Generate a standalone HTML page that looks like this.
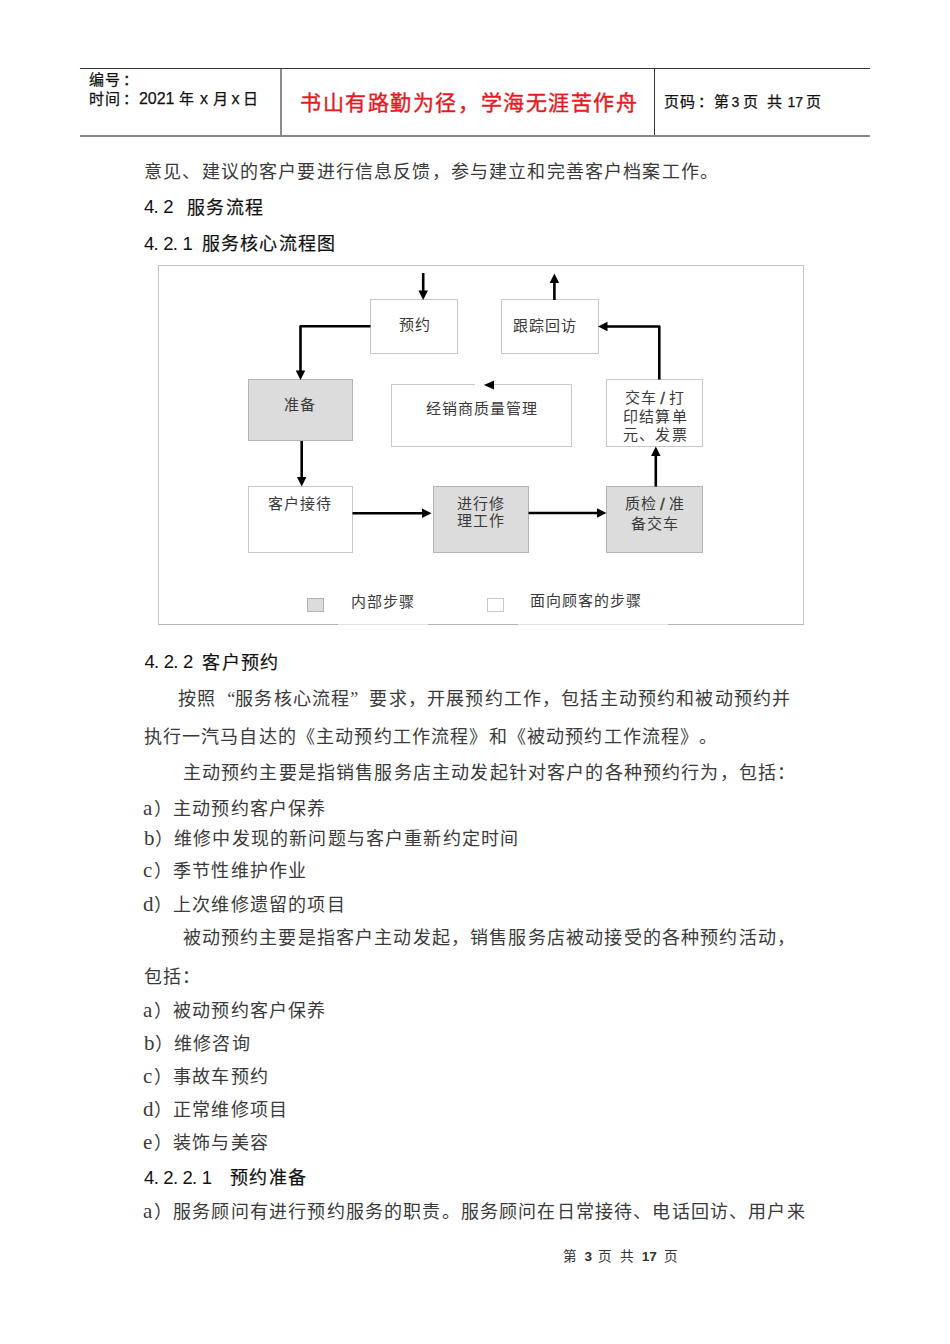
<!DOCTYPE html>
<html lang="zh-CN"><head><meta charset="utf-8"><title>doc</title>
<style>
html,body{margin:0;padding:0;background:#fff;}
body{width:950px;height:1344px;position:relative;overflow:hidden;font-family:"Liberation Serif",serif;}
.t{position:absolute;white-space:nowrap;line-height:1;text-spacing-trim:space-all;font-kerning:none;}
.ql{display:inline-block;width:19.17px;text-align:right;letter-spacing:0;}
.qr{display:inline-block;width:19.17px;text-align:left;}
.h{display:inline-block;width:10.9px;font-family:"Liberation Serif",serif;font-size:21px;}
.hd{display:inline-block;width:9.6px;font-family:"Liberation Sans",sans-serif;font-size:18.5px;position:relative;top:-0.6px;-webkit-text-stroke:0;}
.sl{font-family:"Liberation Sans",sans-serif;font-size:17px;position:relative;top:1.5px;-webkit-text-stroke:0.3px #3a3a3a;}
.l{font-family:"Liberation Sans",sans-serif;letter-spacing:0;}
.ln{position:absolute;}
</style></head><body>
<div class="ln" style="left:80px;top:68px;width:790px;height:1px;background:#333"></div>
<div class="ln" style="left:80px;top:135px;width:790px;height:2px;background:#888"></div>
<div class="ln" style="left:280px;top:69px;width:2px;height:66px;background:#8c8c8c"></div>
<div class="ln" style="left:654px;top:69px;width:1px;height:66px;background:#333"></div>
<svg id="dg" width="950" height="1344" style="position:absolute;left:0;top:0"><rect x="158.5" y="265.5" width="645.0" height="359.0" fill="#fff" stroke="#c4c4c4" stroke-width="1"/><rect x="158" y="624" width="180" height="1" fill="#b4b4b4"/><rect x="338" y="624" width="90" height="1" fill="#e4e4e4"/><rect x="428" y="624" width="90" height="1" fill="#b4b4b4"/><rect x="518" y="624" width="150" height="1" fill="#e4e4e4"/><rect x="668" y="624" width="136" height="1" fill="#b4b4b4"/><rect x="370.5" y="299.5" width="87.0" height="54.0" fill="#fff" stroke="#c8c8c8" stroke-width="1"/><rect x="501.5" y="299.5" width="97.0" height="54.0" fill="#fff" stroke="#c8c8c8" stroke-width="1"/><rect x="248.5" y="379.5" width="104.0" height="61.0" fill="#dcdcdc" stroke="#b4b4b4" stroke-width="1"/><rect x="391.5" y="384.5" width="180.0" height="62.0" fill="#fff" stroke="#c8c8c8" stroke-width="1"/><rect x="606.5" y="379.5" width="96.0" height="67.0" fill="#fff" stroke="#c8c8c8" stroke-width="1"/><rect x="248.5" y="486.5" width="104.0" height="66.0" fill="#fff" stroke="#c8c8c8" stroke-width="1"/><rect x="433.5" y="486.5" width="95.0" height="66.0" fill="#dcdcdc" stroke="#b4b4b4" stroke-width="1"/><rect x="606.5" y="486.5" width="96.0" height="66.0" fill="#dcdcdc" stroke="#b4b4b4" stroke-width="1"/><rect x="307.5" y="598.5" width="16.0" height="13.0" fill="#dcdcdc" stroke="#b4b4b4" stroke-width="1"/><rect x="487.5" y="598.5" width="16.0" height="13.0" fill="#fff" stroke="#c8c8c8" stroke-width="1"/><polyline points="423.2,273 423.2,291" stroke="#000" stroke-width="2.6" fill="none" stroke-linejoin="round"/><polygon points="423.2,300 418.45,290.5 427.95,290.5" fill="#000"/><polyline points="554.4,300 554.4,282" stroke="#000" stroke-width="2.6" fill="none" stroke-linejoin="round"/><polygon points="554.4,273.5 549.65,283.0 559.15,283.0" fill="#000"/><polyline points="370.5,326.3 300.5,326.3 300.5,371" stroke="#000" stroke-width="2.6" fill="none" stroke-linejoin="round"/><polygon points="300.5,380 295.75,370.5 305.25,370.5" fill="#000"/><polyline points="301.7,441 301.7,478" stroke="#000" stroke-width="2.6" fill="none" stroke-linejoin="round"/><polygon points="301.7,486.5 296.95,477.0 306.45,477.0" fill="#000"/><polyline points="352.5,513.2 423,513.2" stroke="#000" stroke-width="2.6" fill="none" stroke-linejoin="round"/><polygon points="431.5,513.2 422.0,508.45000000000005 422.0,517.95" fill="#000"/><polyline points="528.5,513 598,513" stroke="#000" stroke-width="2.6" fill="none" stroke-linejoin="round"/><polygon points="606.5,513 597.0,508.25 597.0,517.75" fill="#000"/><polyline points="655.8,486.5 655.8,455" stroke="#000" stroke-width="2.6" fill="none" stroke-linejoin="round"/><polygon points="655.8,446.5 651.05,456.0 660.55,456.0" fill="#000"/><polyline points="659.3,379.5 659.3,326.5 606,326.5" stroke="#000" stroke-width="2.6" fill="none" stroke-linejoin="round"/><polygon points="598,326.5 607.5,321.75 607.5,331.25" fill="#000"/><rect x="475" y="383.5" width="9" height="2" fill="#fff"/><polygon points="484,385 494,380.5 494,389.5" fill="#000"/></svg>
<div id="t1" class="t" style="left:88.5px;top:73.2px;font-size:15px;letter-spacing:1px;color:#111;-webkit-text-stroke:0.25px #111;">编号<span style="position:relative;left:2.5px">：</span></div><div id="t2" class="t" style="left:88.9px;top:91.2px;font-size:15px;letter-spacing:1px;color:#111;-webkit-text-stroke:0.25px #111;">时间<span style="position:relative;left:2.5px">：</span><span class="l" style="margin-left:2px;font-size:16px">2021</span> 年 <span class="l" style="font-size:16px">x</span> 月<span style="display:inline-block;width:2.75px"></span><span class="l" style="font-size:16px">x</span><span style="display:inline-block;width:3.75px"></span>日</div><div id="t3" class="t" style="left:300.2px;top:93.4px;font-size:21px;letter-spacing:1.55px;color:#e31b23;-webkit-text-stroke:0.4px #e31b23;">书山有路勤为径，学海无涯苦作舟</div><div id="t4" class="t" style="left:663.5px;top:95.4px;font-size:15px;letter-spacing:1px;color:#111;-webkit-text-stroke:0.25px #111;">页码<span style="position:relative;left:2.5px">：</span><span style="display:inline-block;width:2.5px"></span>第<span style="display:inline-block;width:1.5px"></span><span class="l" style="font-size:14px">3</span><span style="display:inline-block;width:4px"></span>页<span style="display:inline-block;width:8.2px"></span>共<span style="display:inline-block;width:4px"></span><span class="l" style="font-size:14px">17</span><span style="display:inline-block;width:3px"></span>页</div><div id="b1" class="t" style="left:144.0px;top:163.4px;font-size:18px;letter-spacing:1.17px;color:#3a3a3a;">意见、建议的客户要进行信息反馈，参与建立和完善客户档案工作。</div><div id="b2" class="t" style="left:144.0px;top:198.8px;font-size:18px;letter-spacing:1.17px;color:#111;-webkit-text-stroke:0.2px #111;"><span class="hd">4</span><span class="hd">.</span><span class="hd">2</span><span style="display:inline-block;width:14.5px"></span>服务流程</div><div id="b3" class="t" style="left:144.0px;top:235.1px;font-size:18px;letter-spacing:1.17px;color:#111;-webkit-text-stroke:0.2px #111;"><span class="hd">4</span><span class="hd">.</span><span class="hd">2</span><span class="hd">.</span><span class="hd">1</span><span style="display:inline-block;width:10px"></span>服务核心流程图</div><div id="b4" class="t" style="left:144.5px;top:653.9px;font-size:18px;letter-spacing:1.17px;color:#111;-webkit-text-stroke:0.2px #111;"><span class="hd">4</span><span class="hd">.</span><span class="hd">2</span><span class="hd">.</span><span class="hd">2</span><span style="display:inline-block;width:10px"></span>客户预约</div><div id="b5" class="t" style="left:177.8px;top:690.1px;font-size:18px;letter-spacing:1.17px;color:#3a3a3a;">按照<span class="ql">“</span>服务核心流程<span class="qr">”</span>要求，开展预约工作，包括主动预约和被动预约并</div><div id="b6" class="t" style="left:143.5px;top:727.8px;font-size:18px;letter-spacing:1.17px;color:#3a3a3a;">执行一汽马自达的《主动预约工作流程》和《被动预约工作流程》。</div><div id="b7" class="t" style="left:182.8px;top:764.4px;font-size:18px;letter-spacing:1.17px;color:#3a3a3a;">主动预约主要是指销售服务店主动发起针对客户的各种预约行为，包括：</div><div id="b8" class="t" style="left:143.1px;top:798.1px;font-size:18px;letter-spacing:1.17px;color:#3a3a3a;"><span class="h">a</span>）主动预约客户保养</div><div id="b9" class="t" style="left:144.1px;top:828.2px;font-size:18px;letter-spacing:1.17px;color:#3a3a3a;"><span class="h">b</span>）维修中发现的新问题与客户重新约定时间</div><div id="b10" class="t" style="left:143.1px;top:860.2px;font-size:18px;letter-spacing:1.17px;color:#3a3a3a;"><span class="h">c</span>）季节性维护作业</div><div id="b11" class="t" style="left:143.1px;top:893.8px;font-size:18px;letter-spacing:1.17px;color:#3a3a3a;"><span class="h">d</span>）上次维修遗留的项目</div><div id="b12" class="t" style="left:182.6px;top:929.0px;font-size:18px;letter-spacing:1.17px;color:#3a3a3a;">被动预约主要是指客户主动发起，销售服务店被动接受的各种预约活动，</div><div id="b13" class="t" style="left:143.7px;top:967.6px;font-size:18px;letter-spacing:1.17px;color:#3a3a3a;">包括：</div><div id="b14" class="t" style="left:143.1px;top:999.5px;font-size:18px;letter-spacing:1.17px;color:#3a3a3a;"><span class="h">a</span>）被动预约客户保养</div><div id="b15" class="t" style="left:144.1px;top:1033.4px;font-size:18px;letter-spacing:1.17px;color:#3a3a3a;"><span class="h">b</span>）维修咨询</div><div id="b16" class="t" style="left:143.1px;top:1066.0px;font-size:18px;letter-spacing:1.17px;color:#3a3a3a;"><span class="h">c</span>）事故车预约</div><div id="b17" class="t" style="left:143.1px;top:1098.7px;font-size:18px;letter-spacing:1.17px;color:#3a3a3a;"><span class="h">d</span>）正常维修项目</div><div id="b18" class="t" style="left:143.1px;top:1132.3px;font-size:18px;letter-spacing:1.17px;color:#3a3a3a;"><span class="h">e</span>）装饰与美容</div><div id="b19" class="t" style="left:144.1px;top:1169.1px;font-size:18px;letter-spacing:1.17px;color:#111;-webkit-text-stroke:0.2px #111;"><span class="hd">4</span><span class="hd">.</span><span class="hd">2</span><span class="hd">.</span><span class="hd">2</span><span class="hd">.</span><span class="hd">1</span><span style="display:inline-block;width:19px"></span>预约准备</div><div id="b20" class="t" style="left:143.1px;top:1201.0px;font-size:18px;letter-spacing:1.17px;color:#3a3a3a;"><span class="h">a</span>）服务顾问有进行预约服务的职责。服务顾问在日常接待、电话回访、用户来</div><div id="f1" class="t" style="left:562.8px;top:1250.0px;font-size:13.6px;color:#333;">第<span style="display:inline-block;width:7.7px"></span><b class="l">3</b><span style="display:inline-block;width:6.3px"></span>页<span style="display:inline-block;width:7.3px"></span>共<span style="display:inline-block;width:8.1px"></span><b class="l">17</b><span style="display:inline-block;width:7.1px"></span>页</div><div id="d1" class="t" style="left:399.0px;top:318.0px;font-size:15px;letter-spacing:1.05px;color:#3a3a3a;">预约</div><div id="d2" class="t" style="left:512.9px;top:319.0px;font-size:15px;letter-spacing:1.05px;color:#3a3a3a;">跟踪回访</div><div id="d3" class="t" style="left:284.4px;top:398.1px;font-size:15px;letter-spacing:1.05px;color:#3a3a3a;">准备</div><div id="d4" class="t" style="left:426.0px;top:402.0px;font-size:15px;letter-spacing:1.05px;color:#3a3a3a;">经销商质量管理</div><div id="d5" class="t" style="left:625.3px;top:388.9px;font-size:15px;letter-spacing:1.05px;color:#3a3a3a;">交车<span style="display:inline-block;width:2.8px"></span><span class="sl">/</span><span style="display:inline-block;width:2.8px"></span>打</div><div id="d6" class="t" style="left:623.4px;top:409.6px;font-size:15px;letter-spacing:1.05px;color:#3a3a3a;">印结算单</div><div id="d7" class="t" style="left:623.4px;top:428.0px;font-size:15px;letter-spacing:1.05px;color:#3a3a3a;">元、发票</div><div id="d8" class="t" style="left:268.0px;top:496.6px;font-size:15px;letter-spacing:1.05px;color:#3a3a3a;">客户接待</div><div id="d9" class="t" style="left:456.5px;top:497.1px;font-size:15px;letter-spacing:1.05px;color:#3a3a3a;">进行修</div><div id="d10" class="t" style="left:456.5px;top:514.4px;font-size:15px;letter-spacing:1.05px;color:#3a3a3a;">理工作</div><div id="d11" class="t" style="left:625.1px;top:494.6px;font-size:15px;letter-spacing:1.05px;color:#3a3a3a;">质检<span style="display:inline-block;width:2.8px"></span><span class="sl">/</span><span style="display:inline-block;width:2.8px"></span>准</div><div id="d12" class="t" style="left:631.2px;top:516.6px;font-size:15px;letter-spacing:1.05px;color:#3a3a3a;">备交车</div><div id="d13" class="t" style="left:350.6px;top:594.5px;font-size:15px;letter-spacing:1.05px;color:#3a3a3a;">内部步骤</div><div id="d14" class="t" style="left:529.6px;top:594.0px;font-size:15px;letter-spacing:1.05px;color:#3a3a3a;">面向顾客的步骤</div>
</body></html>
